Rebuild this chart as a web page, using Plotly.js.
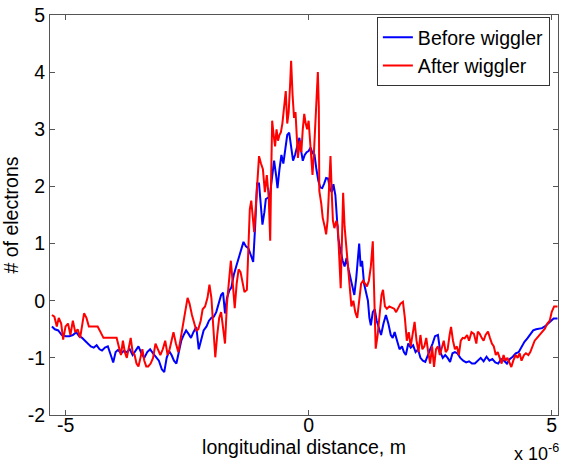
<!DOCTYPE html>
<html>
<head>
<meta charset="utf-8">
<script src="https://cdn.plot.ly/plotly-3.0.1.min.js"></script>
<style>html,body{margin:0;padding:0;background:#fff;}#chart{width:561px;height:467px;}</style>
</head>
<body>
<div id="chart"></div>
<script>
// longitudinal distance in units of 1e-6 m
const xBefore = [-5.28,-5.22,-5.15,-5.08,-5.00,-4.92,-4.85,-4.78,-4.72,-4.66,-4.60,-4.54,-4.48,-4.42,-4.36,-4.30,-4.25,-4.19,-4.13,-4.07,-4.02,-3.97,-3.92,-3.86,-3.80,-3.74,-3.68,-3.62,-3.56,-3.50,-3.44,-3.38,-3.32,-3.26,-3.20,-3.14,-3.08,-3.02,-2.97,-2.92,-2.87,-2.82,-2.77,-2.72,-2.67,-2.62,-2.57,-2.52,-2.47,-2.42,-2.37,-2.31,-2.26,-2.21,-2.16,-2.10,-2.05,-2.00,-1.95,-1.90,-1.85,-1.80,-1.76,-1.72,-1.68,-1.63,-1.59,-1.54,-1.49,-1.44,-1.39,-1.34,-1.29,-1.24,-1.19,-1.14,-1.10,-1.06,-1.02,-0.98,-0.95,-0.91,-0.88,-0.84,-0.80,-0.76,-0.71,-0.67,-0.64,-0.60,-0.56,-0.52,-0.48,-0.44,-0.40,-0.36,-0.32,-0.28,-0.24,-0.19,-0.15,-0.12,-0.08,-0.04,0.00,0.04,0.08,0.12,0.16,0.20,0.24,0.28,0.32,0.36,0.40,0.44,0.48,0.51,0.55,0.58,0.61,0.64,0.67,0.70,0.74,0.78,0.82,0.86,0.90,0.94,0.98,1.02,1.04,1.07,1.10,1.14,1.18,1.22,1.25,1.28,1.32,1.36,1.40,1.44,1.49,1.54,1.59,1.64,1.69,1.73,1.77,1.82,1.87,1.92,1.96,2.00,2.05,2.10,2.15,2.20,2.25,2.30,2.35,2.40,2.45,2.50,2.55,2.60,2.66,2.71,2.76,2.81,2.86,2.91,2.96,3.01,3.06,3.12,3.18,3.24,3.30,3.36,3.42,3.48,3.54,3.60,3.66,3.72,3.78,3.84,3.90,3.96,4.02,4.08,4.14,4.20,4.26,4.32,4.38,4.44,4.50,4.56,4.62,4.68,4.74,4.80,4.86,4.92,4.98,5.04,5.12];
const yBefore = [-0.45,-0.50,-0.52,-0.60,-0.62,-0.62,-0.60,-0.55,-0.62,-0.65,-0.70,-0.76,-0.80,-0.82,-0.78,-0.85,-0.87,-0.82,-0.80,-0.95,-1.08,-0.90,-0.86,-0.92,-0.88,-0.90,-0.85,-0.95,-0.88,-0.80,-0.92,-1.00,-0.90,-0.85,-0.92,-0.98,-1.05,-1.20,-1.25,-1.00,-0.88,-0.95,-1.05,-1.10,-0.88,-0.70,-0.60,-0.52,-0.58,-0.65,-0.55,-0.46,-0.85,-0.70,-0.52,-0.45,-0.35,-0.30,-0.28,-0.20,-0.05,0.10,0.14,-0.22,0.05,0.18,0.23,0.45,0.60,0.75,0.90,1.03,0.95,0.92,0.80,0.68,1.30,2.05,2.05,1.60,1.33,1.55,1.78,1.80,1.82,2.10,2.45,2.20,1.97,2.30,2.55,2.40,2.70,2.90,2.94,2.65,2.45,2.55,2.70,2.85,2.60,2.45,2.55,2.60,2.62,2.68,2.58,2.56,2.30,2.10,1.98,1.97,2.05,2.15,2.14,1.95,1.90,2.04,1.85,1.40,1.10,0.95,0.80,0.70,0.60,0.75,0.55,0.40,0.20,0.10,0.40,0.90,1.00,0.60,0.70,0.30,0.15,0.00,-0.30,-0.43,-0.20,-0.15,-0.35,-0.45,-0.60,-0.40,-0.25,-0.40,-0.60,-0.65,-0.55,-0.70,-0.85,-0.80,-0.90,-0.95,-0.75,-0.82,-0.78,-0.90,-0.85,-1.00,-1.05,-1.07,-0.95,-0.85,-0.75,-0.62,-0.60,-0.90,-1.00,-0.95,-1.00,-1.07,-0.92,-0.90,-0.92,-1.00,-1.05,-1.08,-1.06,-1.10,-1.10,-1.04,-1.00,-1.06,-0.98,-1.05,-1.02,-1.08,-1.10,-1.02,-1.05,-1.10,-1.02,-0.98,-0.92,-0.90,-0.80,-0.72,-0.66,-0.60,-0.52,-0.50,-0.49,-0.48,-0.45,-0.40,-0.36,-0.31,-0.31];

const xAfter = [-5.28,-5.23,-5.18,-5.14,-5.09,-5.05,-5.00,-4.95,-4.90,-4.85,-4.80,-4.75,-4.70,-4.66,-4.62,-4.57,-4.52,-4.46,-4.40,-4.34,-4.28,-4.22,-4.15,-4.08,-4.02,-3.95,-3.90,-3.86,-3.82,-3.78,-3.74,-3.70,-3.66,-3.62,-3.58,-3.54,-3.50,-3.46,-3.42,-3.38,-3.34,-3.30,-3.25,-3.20,-3.15,-3.10,-3.05,-3.00,-2.95,-2.90,-2.86,-2.82,-2.78,-2.73,-2.68,-2.63,-2.58,-2.54,-2.49,-2.45,-2.40,-2.35,-2.31,-2.27,-2.22,-2.18,-2.13,-2.08,-2.04,-2.00,-1.96,-1.92,-1.88,-1.84,-1.80,-1.76,-1.72,-1.68,-1.64,-1.60,-1.56,-1.52,-1.48,-1.44,-1.40,-1.36,-1.32,-1.27,-1.24,-1.21,-1.18,-1.15,-1.12,-1.09,-1.06,-1.02,-0.98,-0.94,-0.90,-0.86,-0.82,-0.79,-0.77,-0.75,-0.72,-0.69,-0.66,-0.63,-0.60,-0.57,-0.54,-0.50,-0.47,-0.44,-0.41,-0.38,-0.36,-0.33,-0.30,-0.27,-0.24,-0.22,-0.18,-0.15,-0.12,-0.09,-0.06,-0.03,0.00,0.03,0.06,0.08,0.11,0.14,0.17,0.19,0.21,0.22,0.26,0.29,0.33,0.36,0.39,0.42,0.45,0.48,0.50,0.53,0.57,0.60,0.63,0.66,0.69,0.71,0.74,0.77,0.80,0.84,0.88,0.92,0.96,1.00,1.04,1.08,1.12,1.16,1.20,1.24,1.28,1.32,1.35,1.38,1.42,1.46,1.50,1.53,1.57,1.61,1.66,1.71,1.76,1.80,1.84,1.89,1.94,1.98,2.02,2.06,2.10,2.14,2.18,2.22,2.26,2.30,2.34,2.38,2.42,2.46,2.50,2.54,2.58,2.62,2.66,2.70,2.74,2.78,2.82,2.86,2.90,2.93,2.97,3.01,3.05,3.09,3.13,3.17,3.21,3.26,3.30,3.35,3.40,3.45,3.48,3.52,3.56,3.60,3.64,3.69,3.73,3.77,3.81,3.85,3.89,3.93,3.97,4.01,4.05,4.09,4.13,4.17,4.21,4.26,4.30,4.34,4.38,4.43,4.47,4.52,4.56,4.60,4.65,4.70,4.75,4.80,4.86,4.91,4.96,5.00,5.05,5.12];
const yAfter = [-0.25,-0.28,-0.45,-0.30,-0.40,-0.68,-0.45,-0.40,-0.60,-0.35,-0.55,-0.50,-0.65,-0.40,-0.22,-0.30,-0.45,-0.45,-0.45,-0.45,-0.55,-0.65,-0.65,-0.65,-0.65,-0.65,-0.82,-0.95,-0.70,-0.90,-1.00,-0.80,-0.65,-0.90,-0.95,-1.10,-1.15,-1.00,-0.85,-1.05,-1.15,-1.15,-1.10,-1.00,-0.75,-0.85,-0.95,-0.85,-0.70,-0.95,-0.85,-0.70,-0.55,-0.75,-0.90,-0.65,-0.35,-0.20,0.05,-0.05,-0.25,-0.40,-0.52,-0.50,-0.35,-0.15,-0.10,0.05,0.28,0.05,-0.40,-0.99,-0.60,-0.30,-0.20,-0.50,-0.75,-0.05,0.30,0.70,0.30,-0.13,0.30,0.55,0.50,0.30,0.15,0.19,0.90,1.60,1.75,1.40,1.20,1.60,2.00,2.53,2.40,2.30,1.90,2.20,1.80,1.05,2.20,3.15,2.90,2.70,3.00,2.80,2.90,2.95,3.10,3.40,3.67,3.10,3.30,3.80,4.20,3.60,3.20,3.30,2.80,2.50,2.80,2.60,3.00,3.27,3.10,3.00,3.15,2.80,2.60,2.20,2.60,3.20,3.80,4.00,3.40,1.92,1.70,1.45,1.30,1.16,1.40,2.00,2.53,1.80,1.40,1.27,1.40,1.30,0.80,0.22,1.20,1.89,1.30,1.00,0.55,0.20,-0.10,0.00,-0.20,-0.30,0.00,0.30,0.35,0.30,0.25,0.35,0.60,1.04,0.20,-0.84,-0.60,-0.20,0.10,0.19,-0.10,-0.14,-0.10,-0.12,-0.14,-0.20,-0.14,-0.05,-0.02,-0.30,-0.70,-0.55,-0.80,-0.60,-0.37,-0.70,-0.90,-0.60,-0.85,-0.80,-0.65,-0.90,-1.10,-0.80,-1.16,-0.85,-0.80,-0.95,-0.80,-0.70,-0.90,-0.85,-0.60,-0.46,-0.70,-0.85,-0.80,-0.95,-0.70,-0.65,-0.66,-0.60,-0.70,-0.55,-0.58,-0.75,-0.54,-0.58,-0.65,-0.70,-0.60,-0.54,-0.65,-0.75,-0.80,-0.95,-0.90,-1.00,-1.10,-0.95,-1.05,-1.00,-1.10,-1.16,-1.05,-0.95,-1.00,-0.92,-1.05,-0.95,-0.92,-0.95,-0.90,-0.80,-0.70,-0.65,-0.60,-0.55,-0.49,-0.40,-0.35,-0.20,-0.10,-0.10];

const xTicks = [-5, 0, 5];
const yTicks = [-2, -1, 0, 1, 2, 3, 4, 5];
const seriesNames = ["Before wiggler", "After wiggler"];

const fam = "Arial, 'Liberation Sans', sans-serif";
const font = {family: fam, size: 19.5, color: "#000"};

const traces = [
  {x: xBefore, y: yBefore, type: "scatter", mode: "lines", name: seriesNames[0],
   line: {color: "#0000ff", width: 2}},
  {x: xAfter, y: yAfter, type: "scatter", mode: "lines", name: seriesNames[1],
   line: {color: "#ff0000", width: 2}}
];

const axisCommon = {
  showgrid: false, zeroline: false, showline: true, mirror: "ticks",
  linecolor: "#555", linewidth: 1, ticks: "inside", ticklen: 5, tickcolor: "#555",
  tickfont: font
};

const layout = {
  width: 561, height: 467,
  margin: {l: 50, r: 3, t: 15, b: 52},
  paper_bgcolor: "#fff", plot_bgcolor: "#fff",
  font: font,
  showlegend: true,
  legend: {x: 0.984, y: 0.995, xanchor: "right", yanchor: "top",
    bordercolor: "#333", borderwidth: 1, bgcolor: "#fff",
    font: {family: fam, size: 19.5, color: "#000"},
    tracegroupgap: 0, itemwidth: 30},
  xaxis: Object.assign({}, axisCommon, {
    range: [-5.32, 5.13], tickvals: xTicks, ticktext: xTicks.map(String),
    ticklabelstandoff: -7,
    title: {text: "longitudinal distance, m", font: {family: fam, size: 19.5}, standoff: 0}
  }),
  yaxis: Object.assign({}, axisCommon, {
    range: [-2, 5], tickvals: yTicks, ticktext: yTicks.map(String),
    title: {text: "# of electrons", font: {family: fam, size: 19.5}, standoff: 4}
  }),
  annotations: [{
    xref: "paper", yref: "paper", x: 1.006, y: -0.128, xanchor: "right", yanchor: "bottom",
    showarrow: false, text: "x 10<sup>-6</sup>", font: {family: fam, size: 18, color: "#000"}
  }]
};

Plotly.newPlot("chart", traces, layout, {displayModeBar: false, staticPlot: true});
</script>
</body>
</html>
